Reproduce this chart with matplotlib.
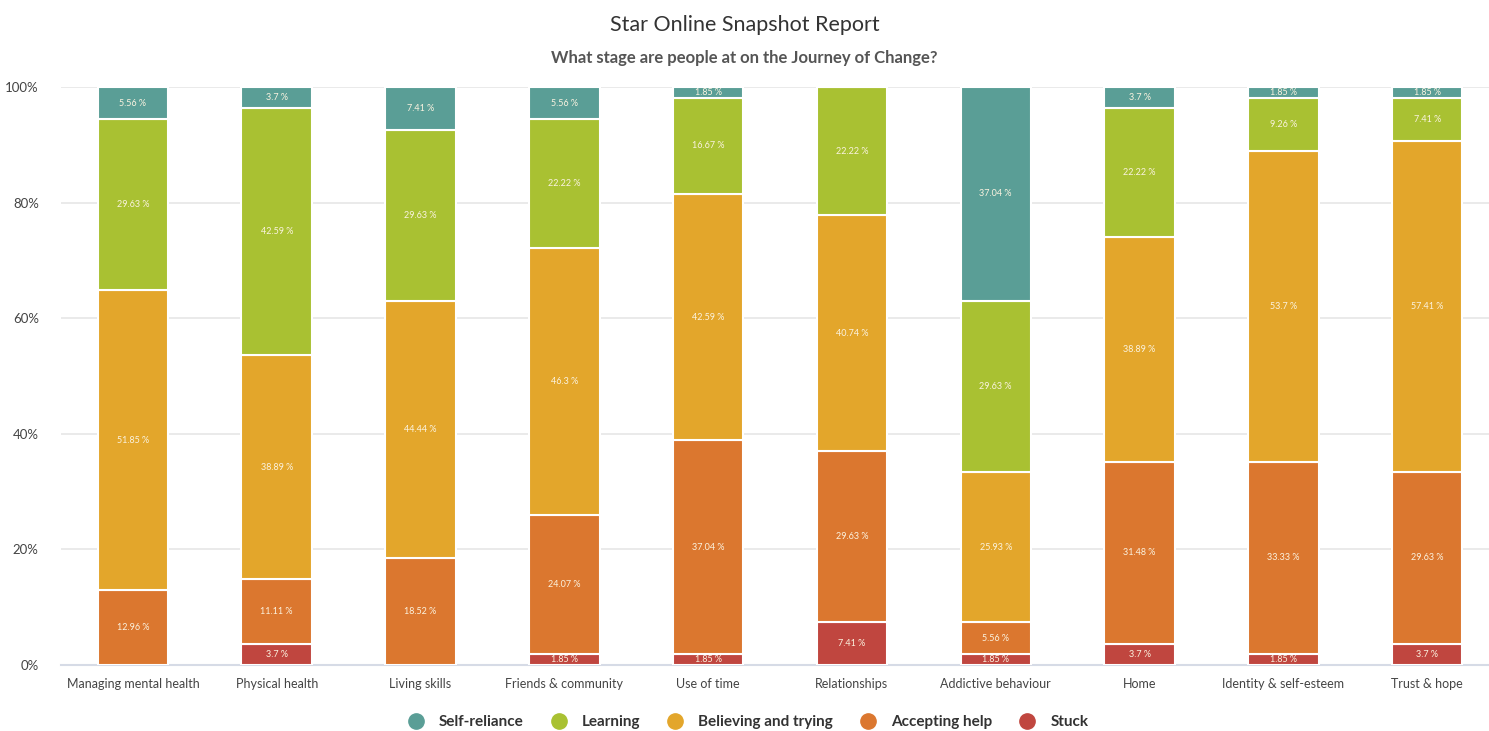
import matplotlib.pyplot as plt
from matplotlib.lines import Line2D
from matplotlib.ticker import FuncFormatter

plt.rcParams['font.family'] = ['Lato', 'DejaVu Sans']

categories = ["Managing mental health", "Physical health", "Living skills", "Friends & community",
              "Use of time", "Relationships", "Addictive behaviour", "Home",
              "Identity & self-esteem", "Trust & hope"]

# stages from bottom to top
stuck = [0, 3.7, 0, 1.85, 1.85, 7.41, 1.85, 3.7, 1.85, 3.7]
accepting_help = [12.96, 11.11, 18.52, 24.07, 37.04, 29.63, 5.56, 31.48, 33.33, 29.63]
believing = [51.85, 38.89, 44.44, 46.3, 42.59, 40.74, 25.93, 38.89, 53.7, 57.41]
learning = [29.63, 42.59, 29.63, 22.22, 16.67, 22.22, 29.63, 22.22, 9.26, 7.41]
self_reliance = [5.56, 3.7, 7.41, 5.56, 1.85, 0, 37.04, 3.7, 1.85, 1.85]

series = [
    ("Stuck", stuck, "#c0463f"),
    ("Accepting help", accepting_help, "#db772f"),
    ("Believing and trying", believing, "#e3a62b"),
    ("Learning", learning, "#a9c132"),
    ("Self-reliance", self_reliance, "#5a9e96"),
]

fig = plt.figure(figsize=(14.89, 7.31), dpi=100)
ax = fig.add_axes([61 / 1489, 66 / 731, 1428 / 1489, 578 / 731])

x = list(range(len(categories)))
bottom = [0] * len(categories)
for name, vals, color in series:
    ax.bar(x, vals, width=0.49, bottom=bottom, color=color, edgecolor="white",
           linewidth=1.5, zorder=3)
    for i, v in enumerate(vals):
        if v > 0:
            ax.text(i, bottom[i] + v / 2, f"{v:g} %", ha="center", va="center",
                    fontsize=6.5, color="#fbf3e0", zorder=4)
    bottom = [b + v for b, v in zip(bottom, vals)]

ax.set_xlim(-0.5, 9.43)
ax.set_ylim(0, 100)
ax.set_yticks([0, 20, 40, 60, 80, 100])
ax.yaxis.set_major_formatter(FuncFormatter(lambda v, p: f"{v:.0f}%"))
ax.set_xticks(x)
ax.set_xticklabels(categories)
ax.tick_params(axis="both", length=0, labelsize=9, colors="#444444")
ax.tick_params(axis="x", pad=9)
ax.tick_params(axis="y", pad=16, labelsize=9.5)
ax.grid(axis="y", color="#e6e6e6", linewidth=1.2, zorder=0)
for s in ["top", "right", "left"]:
    ax.spines[s].set_visible(False)
ax.spines["bottom"].set_color("#d6dbe6")
ax.spines["bottom"].set_linewidth(1.5)

fig.text(0.5, 1 - 25 / 731, "Star Online Snapshot Report", ha="center", va="center",
         fontsize=15.5, color="#333333")
fig.text(0.5, 1 - 58 / 731, "What stage are people at on the Journey of Change?",
         ha="center", va="center", fontsize=12, fontweight="bold", color="#555555")

handles = [Line2D([], [], marker="o", linestyle="", markersize=11, color=c, label=n)
           for n, _, c in reversed(series)]
leg = fig.legend(handles=handles, loc="center", bbox_to_anchor=(0.5, 1 - 722 / 731),
                 ncol=5, frameon=False, fontsize=11, handletextpad=0.5, columnspacing=1.3)
for t in leg.get_texts():
    t.set_fontweight("bold")
    t.set_color("#333333")

fig.savefig("out.png", dpi=100)
